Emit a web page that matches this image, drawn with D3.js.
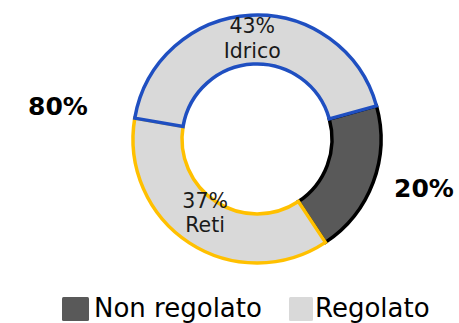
<!DOCTYPE html>
<html>
<head>
<meta charset="utf-8">
<script src="https://cdn.jsdelivr.net/npm/d3@7"></script>
<style>
  html, body { margin: 0; padding: 0; background: #fff; }
  svg { display: block; font-family: "DejaVu Sans", Verdana, sans-serif; }
</style>
</head>
<body>
<svg id="chart" width="459" height="323"></svg>
<script>
// Ring segments, drawn in this order clockwise
const segments = ["Non regolato", "Reti", "Idrico"];
const shares = [20, 37, 43];
const segmentFill = ["#595959", "#d9d9d9", "#d9d9d9"];
const segmentStroke = ["#000000", "#ffc000", "#1f4fc1"];
const segmentLabels = ["", "Reti", "Idrico"];

// Group totals shown outside the ring
const groups = ["Regolato", "Non regolato"];
const groupMembers = [["Reti", "Idrico"], ["Non regolato"]];

// Legend
const legendNames = ["Non regolato", "Regolato"];
const legendColors = ["#595959", "#d9d9d9"];

const svg = d3.select("#chart");
const cx = 257, cy = 139;
const rOuter = 124, rInner = 75, rLabel = 95;
const startDeg = 74.5;

const pie = d3.pie()
  .sort(null)
  .value(d => d.v)
  .startAngle(startDeg * Math.PI / 180)
  .endAngle(startDeg * Math.PI / 180 + 2 * Math.PI);

const data = segments.map((s, i) => ({ name: s, v: shares[i], i }));
const arcs = pie(data);

const arc = d3.arc().innerRadius(rInner).outerRadius(rOuter);
const labelArc = d3.arc().innerRadius(rLabel).outerRadius(rLabel);

const g = svg.append("g").attr("transform", `translate(${cx},${cy})`);

g.selectAll("path.seg")
  .data(arcs)
  .join("path")
  .attr("class", "seg")
  .attr("d", arc)
  .attr("fill", d => segmentFill[d.data.i])
  .attr("stroke", d => segmentStroke[d.data.i])
  .attr("stroke-width", 3.5)
  .attr("stroke-linejoin", "miter");

// Percent + name labels inside the regulated segments
const fmt = v => Math.round(v) + "%";
arcs.filter(d => segmentLabels[d.data.i]).forEach(d => {
  const [x, y] = labelArc.centroid(d);
  const t = g.append("text")
    .attr("text-anchor", "middle")
    .attr("font-size", 20.5)
    .attr("fill", "#1a1a1a");
  t.append("tspan").attr("x", x).attr("y", y - 11).text(fmt(d.data.v));
  t.append("tspan").attr("x", x).attr("y", y + 13.5).text(segmentLabels[d.data.i]);
});

// Group totals
const total = d3.sum(shares);
const groupPos = [[-199, -24], [167, 58]];
groups.forEach((grp, k) => {
  const v = d3.sum(groupMembers[k], m => shares[segments.indexOf(m)]);
  g.append("text")
    .attr("x", groupPos[k][0])
    .attr("y", groupPos[k][1])
    .attr("text-anchor", "middle")
    .attr("font-size", 25)
    .attr("font-weight", "bold")
    .attr("fill", "#000")
    .text(fmt(v / total * 100));
});

// Legend
const legendX = [62, 289];
const legendW = [27, 24];
const legendTextX = [94, 315];
const legend = svg.append("g");
legendNames.forEach((name, k) => {
  legend.append("rect")
    .attr("x", legendX[k]).attr("y", 297)
    .attr("width", legendW[k]).attr("height", 24)
    .attr("rx", 1.5)
    .attr("fill", legendColors[k]);
  legend.append("text")
    .attr("x", legendTextX[k]).attr("y", 316.5)
    .attr("font-size", 26)
    .attr("fill", "#000")
    .text(name);
});
</script>
</body>
</html>
